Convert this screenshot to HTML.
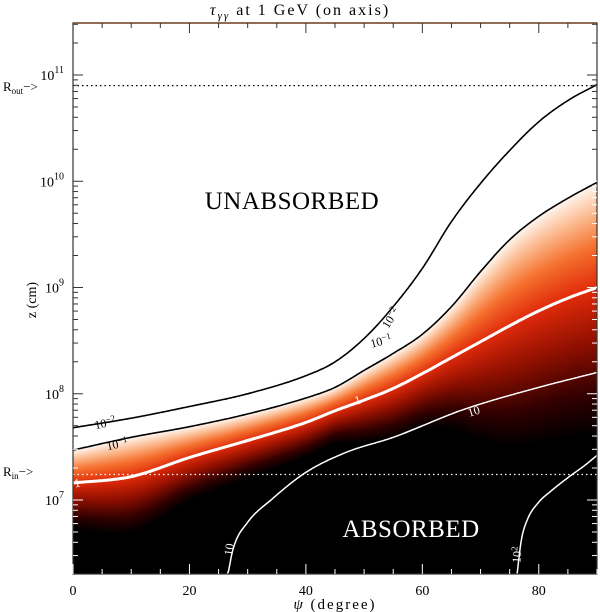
<!DOCTYPE html>
<html><head><meta charset="utf-8"><style>
html,body{margin:0;padding:0;background:#fff;}
#wrap{position:relative;width:600px;height:612px;overflow:hidden;font-family:"Liberation Serif",serif;}
canvas{position:absolute;left:0;top:0;}
svg{position:absolute;left:0;top:0;}
</style></head><body>
<div id="wrap">
<canvas id="field" width="600" height="612"></canvas>
<svg id="svg" width="600" height="612"></svg>
</div>
<script>
// ---- data ----
const psiM2 = [0,10,20,30,40,45,50,55,60,65,70,75,80,85,90];
const logzM2 = [7.68,7.77,7.88,8.00,8.17,8.30,8.52,8.82,9.18,9.62,9.98,10.29,10.56,10.76,10.91];
const psiM1 = [0,10,20,30,40,45,50,55,60,65,70,75,80,85,90];
const logzM1 = [7.47,7.59,7.69,7.81,7.96,8.06,8.22,8.38,8.56,8.82,9.15,9.45,9.67,9.84,9.99];
const psiP0 = [0,10,20,30,40,45,50,55,60,65,70,75,80,85,90];
const logzP0 = [7.16,7.22,7.40,7.56,7.73,7.84,7.94,8.05,8.19,8.34,8.49,8.64,8.78,8.90,9.00];
const psiP1 = [26.5,27.5,30,34,40,47,55,67,80,90];
const logzP1 = [6.27,6.54,6.79,7.00,7.26,7.45,7.59,7.85,8.06,8.20];
const psiP2 = [76.2,77,78,80,82,85,88,90];
const logzP2 = [6.27,6.62,6.81,6.98,7.08,7.21,7.33,7.42];
const xTicks = [0,20,40,60,80];
const yDecades = [7,8,9,10,11];
const logRout = 10.9, logRin = 7.24;

// ---- axes ----
const X0=73, X1=597, Y0=23, Y1=574;
const PSI_MAX=90, LZ_TOP=11+(75-23)/106.25, LZ_BOT=11-(574-75)/106.25;
function xs(p){return X0+(p/PSI_MAX)*(X1-X0);}
function ys(l){return Y0+(LZ_TOP-l)/(LZ_TOP-LZ_BOT)*(Y1-Y0);}
// monotone cubic interpolation
function slopes(px,py){
  const n=px.length,d=[],m=[];
  for(let i=0;i<n-1;i++)d.push((py[i+1]-py[i])/(px[i+1]-px[i]));
  m[0]=d[0];m[n-1]=d[n-2];
  for(let i=1;i<n-1;i++){m[i]=(d[i-1]*d[i]<=0)?0:(d[i-1]+d[i])/2;}
  for(let i=0;i<n-1;i++){if(d[i]===0){m[i]=0;m[i+1]=0;continue;}const a=m[i]/d[i],b=m[i+1]/d[i];const s=a*a+b*b;if(s>9){const t=3/Math.sqrt(s);m[i]=t*a*d[i];m[i+1]=t*b*d[i];}}
  return m;
}
function interp(px,py,p){
  const m=slopes(px,py);
  if(p<=px[0])return py[0];
  for(let i=1;i<px.length;i++){if(p<=px[i]){const h=px[i]-px[i-1],t=(p-px[i-1])/h;
    const h00=2*t*t*t-3*t*t+1,h10=t*t*t-2*t*t+t,h01=-2*t*t*t+3*t*t,h11=t*t*t-t*t;
    return h00*py[i-1]+h10*h*m[i-1]+h01*py[i]+h11*h*m[i];}}
  return py[py.length-1];
}
// ---- field ----
const cv=document.getElementById('field'),ctx=cv.getContext('2d');
const img=ctx.createImageData(600,612);
const stops=[[0,[255,244,236]],[0.3,[251,180,134]],[0.6,[245,112,46]],[1.0,[224,42,10]],[1.5,[145,16,0]],[2.0,[50,0,0]],[2.4,[0,0,0]]];
function cmap(s){
  if(s<0)return [255,255,255];
  for(let i=1;i<stops.length;i++){if(s<=stops[i][0]){const a=stops[i-1],b=stops[i];const t=(s-a[0])/(b[0]-a[0]);return [0,1,2].map(k=>a[1][k]+t*(b[1][k]-a[1][k]));}}
  return [0,0,0];
}
for(let x=X0;x<X1;x++){
  const p=(x-X0)/(X1-X0)*PSI_MAX;
  const lm1=interp(psiM1,logzM1,p),l0=interp(psiP0,logzP0,p);
  for(let y=Y0;y<Y1;y++){
    const l=LZ_TOP-(y-Y0)/(Y1-Y0)*(LZ_TOP-LZ_BOT);
    const s=(lm1-l)/(lm1-l0);
    const c=cmap(s);const i=(y*600+x)*4;
    img.data[i]=c[0];img.data[i+1]=c[1];img.data[i+2]=c[2];img.data[i+3]=255;
  }
}
ctx.putImageData(img,0,0);

// ---- svg ----
const svg=document.getElementById('svg');const NS='http://www.w3.org/2000/svg';
function mk(tag,attrs,parent){const e=document.createElementNS(NS,tag);for(const k in attrs)e.setAttribute(k,attrs[k]);(parent||svg).appendChild(e);return e;}
function contour(px,py,color,w,name){
  let d='';const p0=px[0],p1=px[px.length-1];
  for(let k=0;k<=300;k++){const p=p0+(p1-p0)*k/300;const l=interp(px,py,p);d+=(k?'L':'M')+xs(p).toFixed(1)+','+Math.max(Y0,Math.min(Y1,ys(l))).toFixed(1);}
  const e=mk('path',{d:d,fill:'none',stroke:color,'stroke-width':w,'stroke-linejoin':'round'});
  
  
}
contour(psiM2,logzM2,'#000',1.6,'contour-0.01');
contour(psiM1,logzM1,'#000',1.6,'contour-0.1');
contour(psiP0,logzP0,'#fff',3,'contour-1');
contour(psiP1,logzP1,'#fff',1.5,'contour-10');
contour(psiP2,logzP2,'#fff',1.5,'contour-100');
// dotted lines
let e=mk('line',{x1:X0,x2:X1,y1:ys(logRout),y2:ys(logRout),stroke:'#000','stroke-width':1.3,'stroke-dasharray':'1.5,3'});


e=mk('line',{x1:X0,x2:X1,y1:ys(logRin),y2:ys(logRin),stroke:'#fff','stroke-width':1.3,'stroke-dasharray':'1.5,3'});


// contour labels
function lab(txt,sup,x,y,rot,color,name){
  const t=mk('text',{x:x,y:y,fill:color,'font-size':12,'text-anchor':'middle',transform:`rotate(${rot} ${x} ${y})`,'font-family':'Liberation Serif, serif'});
  t.textContent=txt;
  if(sup){const s=mk('tspan',{'font-size':9,dy:-4},t);s.textContent=sup;}
  
  
}
lab('10','−2',106,427,-12,'#000','label-0.01-left');
lab('10','−1',118,448,-12,'#000','label-0.1-left');
lab('1','',78,487,-10,'#fff','label-1-left');
lab('10','−2',394,320,-58,'#000','label-0.01-right');
lab('10','−1',382,345,-15,'#000','label-0.1-right');
lab('1','',359,404,-18,'#fff','label-1-right');
lab('10','',475,415,-18,'#fff','label-10-right');
lab('10','',233,550,-82,'#fff','label-10-bottom');
lab('10','2',521,555,-86,'#fff','label-100-bottom');
// frame
e=mk('rect',{x:X0,y:Y0,width:X1-X0,height:Y1-Y0,fill:'none',stroke:'#333','stroke-width':1.2});


mk('line',{x1:X0,x2:X1,y1:Y0,y2:Y0,stroke:'#7a4a2a','stroke-width':1.5});
// x ticks
for(let p=0;p<=90;p+=5){
  const major=p%20===0,len=major?10:5,x=xs(p);
  mk('line',{x1:x,x2:x,y1:Y1,y2:Y1-len,stroke:'#fff','stroke-width':1});
  mk('line',{x1:x,x2:x,y1:Y0,y2:Y0+len,stroke:'#333','stroke-width':1});
}
xTicks.forEach(v=>{const t=mk('text',{x:xs(v),y:595,'font-size':14,'text-anchor':'middle',fill:'#000'});t.textContent=v;

});
// y ticks
for(let d=6;d<=11;d++){for(let m=1;m<=9;m++){
  const l=d+Math.log10(m);if(l<LZ_BOT||l>LZ_TOP)continue;const y=ys(l);const len=m===1?10:5;
  const dark=y<ys(interp(psiM1,logzM1,0))-2;
  mk('line',{x1:X0,x2:X0+len,y1:y,y2:y,stroke:dark?'#333':'#fff','stroke-width':1});
  const darkR=y<ys(interp(psiM1,logzM1,90))-2;
  mk('line',{x1:X1,x2:X1-len,y1:y,y2:y,stroke:darkR?'#333':'#fff','stroke-width':1});
}}
yDecades.forEach(d=>{const t=mk('text',{x:64,y:ys(d)+5,'font-size':14,'text-anchor':'end',fill:'#000'});t.textContent='10';
const s=mk('tspan',{'font-size':10,dy:-7},t);s.textContent=String(d);

});
// R labels
function rlab(sub,y,name){const t=mk('text',{x:3,y:y,'font-size':13,fill:'#000'});t.textContent='R';
const s=mk('tspan',{'font-size':9,dy:3},t);s.textContent=sub;const s2=mk('tspan',{dy:-3},t);s2.textContent='−>';
}
rlab('out',91,'r-out-label');rlab('in',476,'r-in-label');
// axis titles
let t=mk('text',{x:300,y:15,'font-size':16,'text-anchor':'middle',fill:'#000','letter-spacing':'2'});
t.innerHTML='<tspan font-style="italic">τ</tspan><tspan font-size="11" dy="4" font-style="italic">γγ</tspan><tspan dy="-4"> at 1 GeV (on axis)</tspan>';

t=mk('text',{x:335,y:609,'font-size':15,'text-anchor':'middle',fill:'#000','letter-spacing':'2'});
t.innerHTML='<tspan font-style="italic">ψ</tspan> (degree)';

t=mk('text',{x:36,y:300,'font-size':14,'text-anchor':'middle',fill:'#000',transform:'rotate(-90 36 300)'});
t.textContent='z (cm)';

t=mk('text',{x:292,y:209,'font-size':25,'text-anchor':'middle',fill:'#000','letter-spacing':'0.5'});t.textContent='UNABSORBED';

t=mk('text',{x:411,y:537,'font-size':25,'text-anchor':'middle',fill:'#fff','letter-spacing':'0.5'});t.textContent='ABSORBED';

</script>
</body></html>
